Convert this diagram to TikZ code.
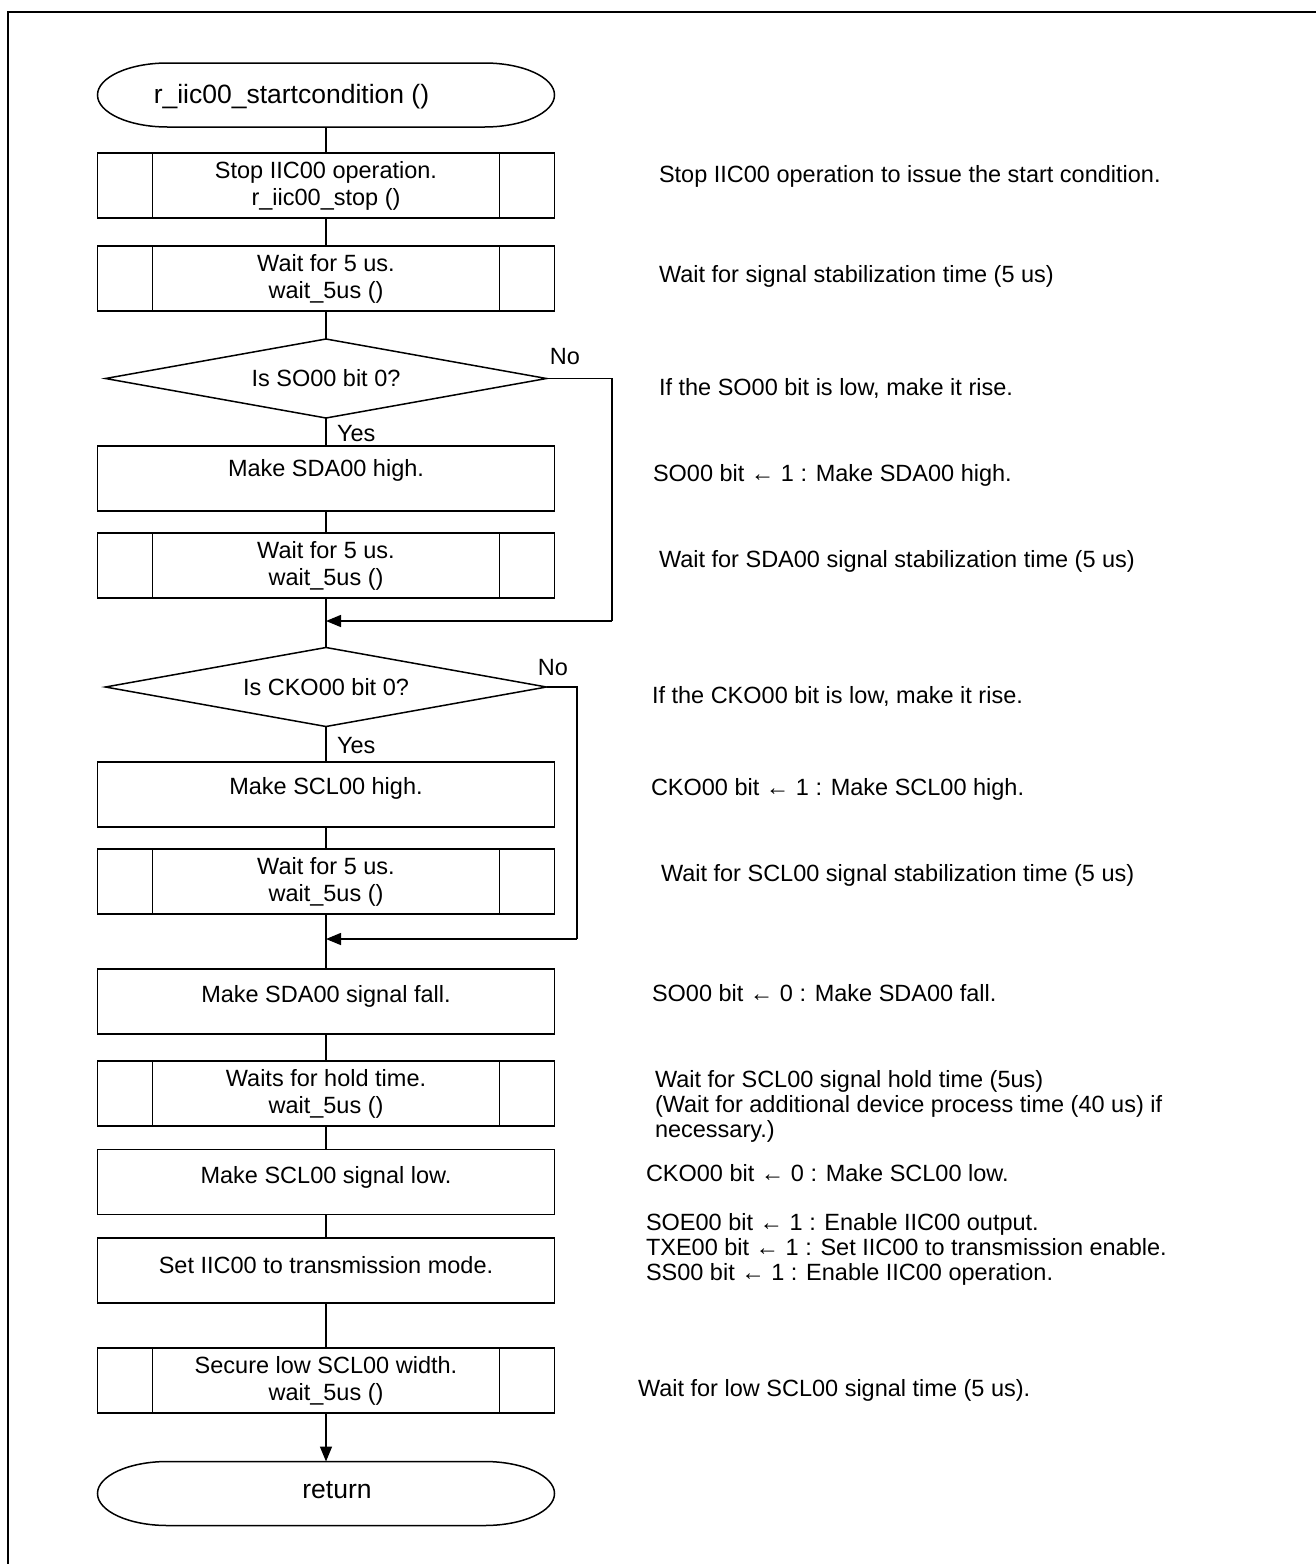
\documentclass[tikz,border=0pt]{standalone}
\usepackage{fontspec}
\setmainfont{Liberation Sans}
\usetikzlibrary{arrows.meta,shapes.geometric}
\tikzset{
  base/.style={font=\fontsize{23.5}{27}\selectfont, inner sep=0pt, outer sep=0pt},
  conn/.style={line width=1.5pt},
  arr/.style={conn, -{Triangle[length=15pt,width=12pt]}},
  proc/.style={base, draw, line width=1.5pt, minimum width=457pt, minimum height=65pt},
  pred/.style={proc, align=center,
    path picture={
      \draw[line width=1.5pt] ([xshift=55pt]path picture bounding box.north west) -- ([xshift=55pt]path picture bounding box.south west);
      \draw[line width=1.5pt] ([xshift=-55pt]path picture bounding box.north east) -- ([xshift=-55pt]path picture bounding box.south east);
    }},
  term/.style={base, minimum width=457pt, minimum height=64pt},
  termtxt/.style={base, font=\fontsize{26.5}{30}\selectfont},
  dec/.style={base, draw, line width=1.5pt, diamond, aspect=5.58, minimum width=441pt, minimum height=79pt},
  note/.style={base, anchor=west, align=left, font=\fontsize{23.5}{25}\selectfont},
  lbl/.style={base},
}
\newcommand\termshape[1]{\draw[conn] ([xshift=70pt]#1.north west) -- ([xshift=-70pt]#1.north east)
  arc[start angle=90,end angle=-90,x radius=70pt,y radius=32pt]
  -- ([xshift=70pt]#1.south west)
  arc[start angle=270,end angle=90,x radius=70pt,y radius=32pt] -- cycle;}
\begin{document}
\begin{tikzpicture}[x=1pt,y=-1pt]
\useasboundingbox (0,0) rectangle (1315,1564);
\draw[line width=2.5pt] (8,1566) -- (8,12) -- (1317,12);

% flow nodes
\node[term] (t1) at (326,95) {};
\termshape{t1}
\node[termtxt] (t1txt) at (291.5,97) {r\_iic00\_startcondition ()};

\node[pred] (b1) at (326,185.5) {Stop IIC00 operation.\\r\_iic00\_stop ()};
\node[pred] (b2) at (326,278.5) {Wait for 5 us.\\wait\_5us ()};
\node[dec] (d1) at (326,378.5) {Is SO00 bit 0?};
\node[proc, label={[base,yshift=8pt]center:Make SDA00 high.}] (b3) at (326,478.5) {};
\node[pred] (b4) at (326,565.5) {Wait for 5 us.\\wait\_5us ()};
\node[dec] (d2) at (326,687) {Is CKO00 bit 0?};
\node[proc, label={[base,yshift=6pt]center:Make SCL00 high.}] (b5) at (326,794.5) {};
\node[pred] (b6) at (326,881.5) {Wait for 5 us.\\wait\_5us ()};
\node[proc, label={[base,yshift=5pt]center:Make SDA00 signal fall.}] (b7) at (326,1001.5) {};
\node[pred] (b8) at (326,1093.5) {Waits for hold time.\\wait\_5us ()};
\node[proc, label={[base,yshift=5pt]center:Make SCL00 signal low.}] (b9) at (326,1182) {};
\node[proc, label={[base,yshift=5pt]center:Set IIC00 to transmission mode.}] (b10) at (326,1270.5) {};
\node[pred] (b11) at (326,1380.5) {Secure low SCL00 width.\\wait\_5us ()};
\node[term] (t2) at (326,1493.5) {};
\termshape{t2}
\node[termtxt] (t2txt) at (337,1490) {return};

% labels
\node[lbl] (no1) at (565,357) {No};
\node[lbl, anchor=west] (yes1) at (337,434) {Yes};
\node[lbl] (no2) at (553,668) {No};
\node[lbl, anchor=west] (yes2) at (337,746) {Yes};

% connectors
\coordinate (l1a) at (612,378.5);
\coordinate (l1b) at (612,621);
\coordinate (m1) at (326,621);
\coordinate (l2a) at (577,687);
\coordinate (l2b) at (577,939);
\coordinate (m2) at (326,939);

\draw[conn] (t1.south) -- (b1.north);
\draw[conn] (b1.south) -- (b2.north);
\draw[conn] (b2.south) -- (d1.north);
\draw[conn] (d1.south) -- (b3.north);
\draw[conn] (b3.south) -- (b4.north);
\draw[conn] (b4.south) -- (d2.north);
\draw[conn] (d1.east) -- (l1a) -- (l1b);
\draw[arr] (l1b) -- (m1);
\draw[conn] (d2.south) -- (b5.north);
\draw[conn] (b5.south) -- (b6.north);
\draw[conn] (b6.south) -- (b7.north);
\draw[conn] (d2.east) -- (l2a) -- (l2b);
\draw[arr] (l2b) -- (m2);
\draw[conn] (b7.south) -- (b8.north);
\draw[conn] (b8.south) -- (b9.north);
\draw[conn] (b9.south) -- (b10.north);
\draw[conn] (b10.south) -- (b11.north);
\draw[arr] (b11.south) -- (t2.north);

% comments
\node[note] (c1) at (659,176) {Stop IIC00 operation to issue the start condition.};
\node[note] (c2) at (659,276) {Wait for signal stabilization time (5 us)};
\node[note] (c3) at (659,388) {If the SO00 bit is low, make it rise.};
\node[note] (c4) at (653,475) {SO00 bit ← 1 : Make SDA00 high.};
\node[note] (c5) at (659,561) {Wait for SDA00 signal stabilization time (5 us)};
\node[note] (c6) at (652,696) {If the CKO00 bit is low, make it rise.};
\node[note] (c7) at (651,789) {CKO00 bit ← 1 : Make SCL00 high.};
\node[note] (c8) at (661,875) {Wait for SCL00 signal stabilization time (5 us)};
\node[note] (c9) at (652,993) {SO00 bit ← 0 : Make SDA00 fall.};
\node[note] (c10) at (655,1106) {Wait for SCL00 signal hold time (5us)\\(Wait for additional device process time (40 us) if\\necessary.)};
\node[note] (c11) at (646,1173) {CKO00 bit ← 0 : Make SCL00 low.};
\node[note] (c12) at (646,1249) {SOE00 bit ← 1 : Enable IIC00 output.\\TXE00 bit ← 1 : Set IIC00 to transmission enable.\\SS00 bit ← 1 : Enable IIC00 operation.};
\node[note] (c13) at (638,1390) {Wait for low SCL00 signal time (5 us).};
\end{tikzpicture}
\end{document}
